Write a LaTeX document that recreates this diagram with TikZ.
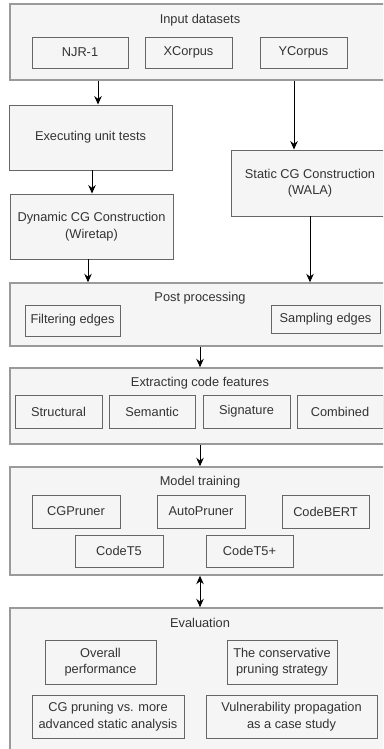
\documentclass[tikz,border=0pt]{standalone}
\usepackage{fontspec}
\setmainfont{Liberation Sans}
\usepackage{xcolor}
\usepackage{tikz}
\usetikzlibrary{positioning, arrows.meta}

\definecolor{boxfill}{HTML}{F5F5F5}
\definecolor{outerline}{HTML}{9A9A9A}
\definecolor{innerline}{HTML}{666666}
\definecolor{textgray}{HTML}{333333}

\tikzset{
  outerbox/.style={draw=outerline, line width=1.4pt, fill=boxfill, inner sep=0pt},
  innerbox/.style={draw=innerline, line width=0.9pt, fill=boxfill, inner sep=0pt,
    align=center, text=textgray, font=\fontsize{12.8}{16.5}\selectfont},
  titletext/.style={text=textgray, font=\fontsize{12.8}{16.5}\selectfont},
  flow/.style={-{Stealth[length=8.5pt, width=7.5pt]}, line width=0.9pt},
  bothflow/.style={{Stealth[length=8.5pt, width=7.5pt]}-{Stealth[length=8.5pt, width=7.5pt]}, line width=0.9pt}
}

\begin{document}
\begin{tikzpicture}[x=1pt, y=-1pt]
    \clip (0,0) rectangle (383,749);
    \fill[white] (0,0) rectangle (383,749);

    % input datasets
    \node[outerbox, minimum width=380, minimum height=76] (input) at (200,42) {};
    \node[titletext] (inputtitle) at (200,20) {Input datasets};
    \node[innerbox, minimum width=96, minimum height=31] (njr) at (80,52.5) {NJR-1};
    \node[innerbox, minimum width=87, minimum height=31] (xcorpus) at (188.5,52.5) {XCorpus};
    \node[innerbox, minimum width=87, minimum height=31] (ycorpus) at (303.5,52.5) {YCorpus};

    % dynamic branch
    \node[innerbox, minimum width=163, minimum height=65] (exec) at (90.5,137.5) {Executing unit tests};
    \node[innerbox, minimum width=163, minimum height=65] (dyncg) at (91.5,226.5) {Dynamic CG Construction\\(Wiretap)};

    % static branch
    \node[innerbox, minimum width=158, minimum height=66] (statcg) at (310,183) {Static CG Construction\\(WALA)};

    % post processing
    \node[outerbox, minimum width=380, minimum height=63] (post) at (200,314.5) {};
    \node[titletext] (posttitle) at (200,298) {Post processing};
    \node[innerbox, minimum width=95, minimum height=31] (filter) at (72.5,320.5) {Filtering edges};
    \node[innerbox, minimum width=109, minimum height=28] (sample) at (325.5,319) {Sampling edges};

    % extracting code features
    \node[outerbox, minimum width=380, minimum height=76] (extract) at (200,406) {};
    \node[titletext] (extracttitle) at (200,383) {Extracting code features};
    \node[innerbox, minimum width=87, minimum height=33] (structural) at (58.5,411.5) {Structural};
    \node[innerbox, minimum width=86, minimum height=33] (semantic) at (152,411.5) {Semantic};
    \node[innerbox, minimum width=87, minimum height=33] (signature) at (246.5,411.5) {Signature};
    \node[innerbox, minimum width=86, minimum height=33] (combined) at (340,411.5) {Combined};

    % model training
    \node[outerbox, minimum width=380, minimum height=108] (model) at (200,521) {};
    \node[titletext] (modeltitle) at (200,482) {Model training};
    \node[innerbox, minimum width=88, minimum height=33] (cgpruner) at (76,511.5) {CGPruner};
    \node[innerbox, minimum width=88, minimum height=33] (autopruner) at (201,511.5) {AutoPruner};
    \node[innerbox, minimum width=87, minimum height=33] (codebert) at (325.5,511.5) {CodeBERT};
    \node[innerbox, minimum width=88, minimum height=32] (codetfive) at (119,551) {CodeT5};
    \node[innerbox, minimum width=87, minimum height=32] (codetfiveplus) at (249.5,551) {CodeT5+};

    % evaluation
    \node[outerbox, minimum width=380, minimum height=160] (eval) at (200,688) {};
    \node[titletext] (evaltitle) at (200,623) {Evaluation};
    \node[innerbox, minimum width=111, minimum height=44] (overall) at (100.5,662) {Overall\\performance};
    \node[innerbox, minimum width=110, minimum height=44] (conserv) at (282,662) {The conservative\\pruning strategy};
    \node[innerbox, minimum width=152, minimum height=43] (advanced) at (108,716.5) {CG pruning vs. more\\advanced static analysis};
    \node[innerbox, minimum width=171, minimum height=43] (vuln) at (291.5,716.5) {Vulnerability propagation\\as a case study};

    % connectors between the stages
    \draw[flow] (input.south -| 98,0) -- (exec.north -| 98,0);
    \draw[flow] (input.south -| 294,0) -- (statcg.north -| 294,0);
    \draw[flow] (exec.south -| 92,0) -- (dyncg.north -| 92,0);
    \draw[flow] (dyncg.south -| 88,0) -- (post.north -| 88,0);
    \draw[flow] (statcg.south -| 310,0) -- (post.north -| 310,0);
    \draw[flow] (post.south) -- (extract.north);
    \draw[flow] (extract.south) -- (model.north);
    \draw[bothflow] (model.south) -- (eval.north);
\end{tikzpicture}
\end{document}
